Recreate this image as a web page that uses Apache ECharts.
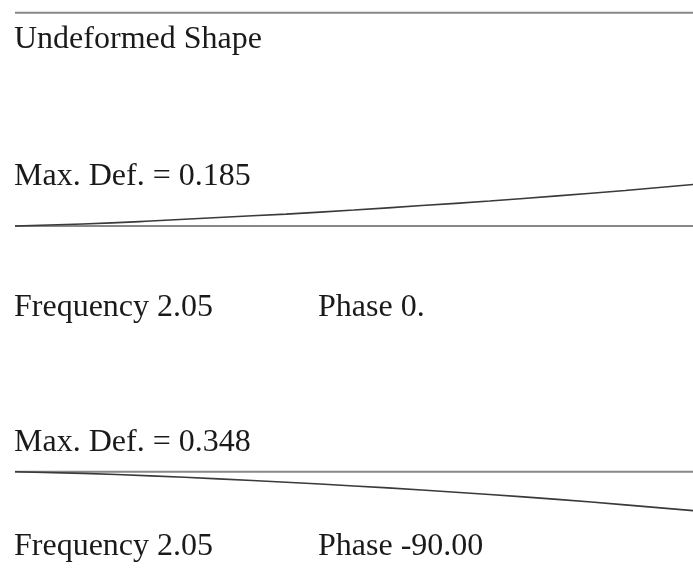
<!DOCTYPE html>
<html lang="en">
<head>
  <meta charset="UTF-8">
  <title>Mode Shapes</title>
  <script src="https://cdn.jsdelivr.net/npm/echarts@6.0.0/dist/echarts.min.js"></script>
  <style>
    html, body, #main {
      margin: 0;
      padding: 0;
      width: 693px;
      height: 568px;
      background: #fff;
    }
  </style>
</head>
<body>
  <div id="main"></div>

  <script>
    // beam stations along the span (normalised)
    const stations = [0, 0.1, 0.2, 0.3, 0.4, 0.5, 0.6, 0.7, 0.8, 0.9, 1.0];
    const undeformed = [0, 0, 0, 0, 0, 0, 0, 0, 0, 0, 0];
    // deflection, phase 0 (max 0.185)
    const phase0Def = [0, 0.009, 0.022, 0.038, 0.053, 0.071, 0.091, 0.111, 0.134, 0.158, 0.185];
    // deflection, phase -90 (max 0.348)
    const phase90Def = [0, -0.015, -0.037, -0.064, -0.094, -0.127, -0.164, -0.204, -0.247, -0.296, -0.348];

    const labels = {
      title: "Undeformed Shape",
      max1: "Max. Def. = 0.185",
      freq1: "Frequency 2.05",
      phase1: "Phase 0.",
      max2: "Max. Def. = 0.348",
      freq2: "Frequency 2.05",
      phase2: "Phase -90.00"
    };

    const pairs = ys => stations.map((s, i) => [s, ys[i]]);

    const font = '32px "Liberation Serif", "DejaVu Serif", serif';
    const txt = (text, x, y) => ({
      type: 'text',
      x: x,
      y: y,
      style: { text: text, font: font, fill: '#1a1a1a', verticalAlign: 'middle' }
    });

    const greyLine = { color: '#888', width: 2 };
    const darkLine = { color: '#3a3a3a', width: 1.6 };

    const chart = echarts.init(document.getElementById('main'));
    const option = {
      animation: false,
      grid: [
        { left: 15, right: 0, top: 2.7, height: 20 },
        { left: 15, right: 0, top: 181.1, height: 56.1 },
        { left: 15, right: 0, top: 466.1, height: 50.4 }
      ],
      xAxis: [0, 1, 2].map(i => ({
        type: 'value', gridIndex: i, min: 0, max: 1, show: false
      })),
      yAxis: [
        { type: 'value', gridIndex: 0, min: -1, max: 1, show: false },
        { type: 'value', gridIndex: 1, min: -0.05, max: 0.2, show: false },
        { type: 'value', gridIndex: 2, min: -0.4, max: 0.05, show: false }
      ],
      series: [
        { type: 'line', xAxisIndex: 0, yAxisIndex: 0, data: pairs(undeformed), showSymbol: false, lineStyle: greyLine },
        { type: 'line', xAxisIndex: 1, yAxisIndex: 1, data: pairs(undeformed), showSymbol: false, lineStyle: greyLine },
        { type: 'line', xAxisIndex: 1, yAxisIndex: 1, data: pairs(phase0Def), showSymbol: false, smooth: true, lineStyle: darkLine },
        { type: 'line', xAxisIndex: 2, yAxisIndex: 2, data: pairs(undeformed), showSymbol: false, lineStyle: greyLine },
        { type: 'line', xAxisIndex: 2, yAxisIndex: 2, data: pairs(phase90Def), showSymbol: false, smooth: true, lineStyle: darkLine }
      ],
      graphic: [
        txt(labels.title, 14, 40),
        txt(labels.max1, 14, 177),
        txt(labels.freq1, 14, 308),
        txt(labels.phase1, 318, 308),
        txt(labels.max2, 14, 443),
        txt(labels.freq2, 14, 547),
        txt(labels.phase2, 318, 547)
      ]
    };

    chart.setOption(option);
  </script>
</body>
</html>
